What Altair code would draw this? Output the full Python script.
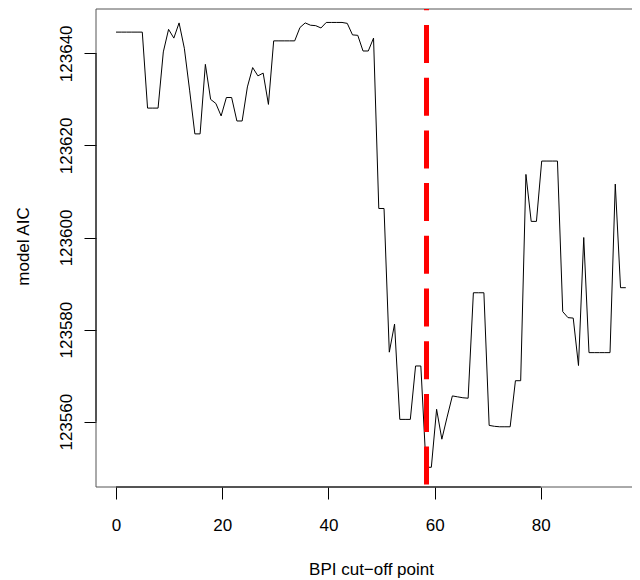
import altair as alt
import pandas as pd

# BPI cut-off grid (evenly spaced, 98 cut-offs from 0 to ~96)
bpi_cutoff = [round(i * 96 / 97, 3) for i in range(98)]

model_aic = [
    123644.6, 123644.6, 123644.6, 123644.6, 123644.6, 123644.6,
    123628.1, 123628.1, 123628.1, 123640.3, 123645.2, 123643.3,
    123646.6, 123641.1, 123632.0, 123622.5, 123622.5, 123637.6,
    123630.0, 123629.1, 123626.4, 123630.4, 123630.4, 123625.3,
    123625.3, 123632.7, 123636.9, 123635.1, 123635.7, 123628.9,
    123642.7, 123642.7, 123642.7, 123642.7, 123642.7, 123645.6,
    123646.6, 123646.1, 123646.0, 123645.5, 123646.7, 123646.7,
    123646.7, 123646.7, 123646.5, 123644.0, 123643.9, 123640.5,
    123640.5, 123643.3, 123606.3, 123606.3, 123575.1, 123581.2,
    123560.5, 123560.5, 123560.5, 123572.1, 123572.1, 123550.1,
    123550.1, 123562.7, 123556.2, 123561.0, 123565.6, 123565.4,
    123565.2, 123565.1, 123588.0, 123588.0, 123588.0, 123559.2,
    123559.0, 123558.9, 123558.9, 123558.9, 123568.9, 123568.9,
    123613.7, 123603.5, 123603.5, 123616.6, 123616.6, 123616.6,
    123616.6, 123583.9, 123582.6, 123582.5, 123572.2, 123600.0,
    123575.0, 123575.0, 123575.0, 123575.0, 123575.0, 123611.6,
    123589.1, 123589.1,
]

best_cutoff = [58.47]

x_ticks = [0, 20, 40, 60, 80]
y_ticks = [123560, 123580, 123600, 123620, 123640]

x_title = "BPI cut\u2212off point"
y_title = "model AIC"

XMIN, XMAX = -3.77, 97.17
YMIN, YMAX = 123545.82, 123649.62
W, H = 536, 478

FONT = "Liberation Sans"

xs = alt.Scale(domain=[XMIN, XMAX], nice=False, zero=False)
ys = alt.Scale(domain=[YMIN, YMAX], nice=False, zero=False)

xaxis = alt.Axis(
    values=x_ticks, domain=False, grid=False, tickSize=12, tickColor="black",
    tickWidth=1, labelFont=FONT, labelFontSize=17, labelColor="black",
    labelBaseline="alphabetic", labelPadding=31, labelFlush=False,
    titleFont=FONT, titleFontSize=17, titleFontWeight="normal", titleColor="black",
    titleBaseline="alphabetic", titleAlign="center", titleX=275, titleY=87,
    titleAnchor="middle",
)
yaxis = alt.Axis(
    values=y_ticks, domain=False, grid=False, tickSize=12, tickColor="black",
    tickWidth=1, labelFont=FONT, labelFontSize=17, labelColor="black",
    labelAngle=270, labelAlign="center", labelBaseline="alphabetic",
    labelPadding=13, labelFlush=False, format="d",
    titleFont=FONT, titleFontSize=17, titleFontWeight="normal", titleColor="black",
    titleAngle=270, titleBaseline="alphabetic", titleAlign="center",
    titleX=-68, titleY=237,
)

df = pd.DataFrame({"bpi": bpi_cutoff, "aic": model_aic})

line = alt.Chart(df).mark_line(color="black", strokeWidth=1).encode(
    x=alt.X("bpi:Q", scale=xs, axis=xaxis, title=x_title),
    y=alt.Y("aic:Q", scale=ys, axis=yaxis, title=y_title),
)

frame_df = pd.DataFrame({
    "bpi": [XMIN, XMIN, XMIN],
    "bpi2": [XMAX, XMIN, XMAX],
    "aic": [YMAX, YMIN, YMIN],
    "aic2": [YMAX, YMAX, YMIN],
})
frame = alt.Chart(frame_df).mark_rule(color="#555555", strokeWidth=1).encode(
    x=alt.X("bpi:Q", scale=xs, axis=xaxis, title=x_title), x2="bpi2:Q",
    y=alt.Y("aic:Q", scale=ys, axis=yaxis, title=y_title), y2="aic2:Q",
)

axisline_df = pd.DataFrame({
    "bpi": [x_ticks[0], XMIN],
    "bpi2": [x_ticks[-1], XMIN],
    "aic": [YMIN, y_ticks[0]],
    "aic2": [YMIN, y_ticks[-1]],
})
axislines = alt.Chart(axisline_df).mark_rule(color="black", strokeWidth=1).encode(
    x=alt.X("bpi:Q", scale=xs, axis=xaxis, title=x_title), x2="bpi2:Q",
    y=alt.Y("aic:Q", scale=ys, axis=yaxis, title=y_title), y2="aic2:Q",
)

vline_df = pd.DataFrame({"bpi": best_cutoff, "aic": [YMAX], "aic2": [YMIN]})
vline = alt.Chart(vline_df).mark_rule(
    color="#ff0000", strokeWidth=5, strokeDash=[38, 14.7], strokeDashOffset=36.7
).encode(
    x=alt.X("bpi:Q", scale=xs, axis=xaxis, title=x_title),
    y=alt.Y("aic:Q", scale=ys, axis=yaxis, title=y_title), y2="aic2:Q",
)

chart = alt.layer(frame, line, vline, axislines).properties(
    width=W, height=H,
    autosize=alt.AutoSizeParams(type="none"),
    padding={"left": 88, "top": 1, "right": 0, "bottom": 91},
    background="white",
).configure_view(stroke=None)

chart.save("out.html", embed_options={"renderer": "svg", "actions": False})
